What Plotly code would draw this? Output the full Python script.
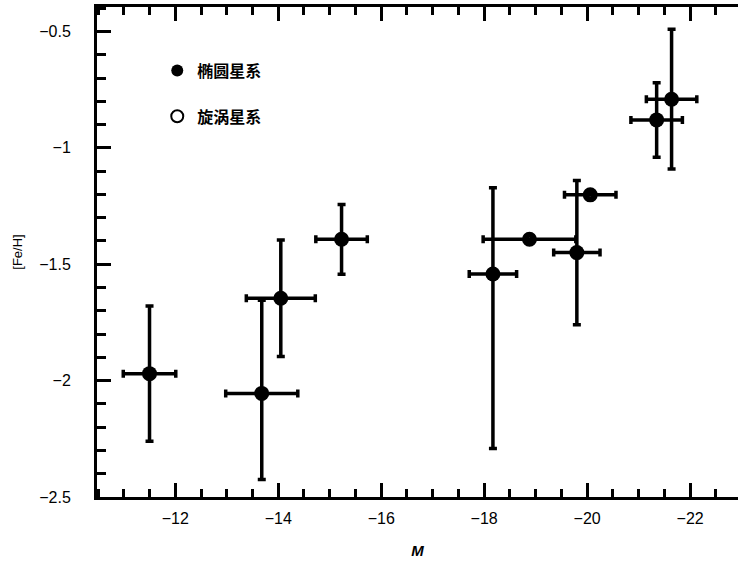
import plotly.graph_objects as go

# Elliptical galaxies (filled)
ell_M = [-11.5, -13.68, -14.05, -15.23, -18.17, -19.80, -21.35, -21.64]
ell_feh = [-1.97, -2.055, -1.646, -1.393, -1.542, -1.450, -0.880, -0.791]
ell_Merr = [0.51, 0.70, 0.67, 0.50, 0.46, 0.45, 0.50, 0.49]
ell_feh_up = [0.29, 0.40, 0.25, 0.15, 0.37, 0.31, 0.16, 0.30]
ell_feh_dn = [0.29, 0.37, 0.25, 0.15, 0.75, 0.31, 0.16, 0.30]

# Spiral galaxies (open)
sp_M = [-18.88, -20.06]
sp_feh = [-1.393, -1.202]
sp_Merr = [0.90, 0.50]

x_ticks = [-12, -14, -16, -18, -20, -22]
y_ticks = [-0.5, -1, -1.5, -2, -2.5]
y_ticktext = ["−0.5", "−1", "−1.5", "−2", "−2.5"]

err_style = dict(color="black", thickness=3.5, width=4)

fig = go.Figure()
fig.add_trace(go.Scatter(
    x=ell_M, y=ell_feh, mode="markers", name="椭圆星系",
    legendgroup="a",
    marker=dict(symbol="circle", size=15, color="black"),
    error_x=dict(type="data", array=ell_Merr, **err_style),
    error_y=dict(type="data", symmetric=False, array=ell_feh_up,
                 arrayminus=ell_feh_dn, **err_style),
))
fig.add_trace(go.Scatter(
    x=sp_M, y=sp_feh, mode="markers", name="旋涡星系",
    legendgroup="b",
    marker=dict(symbol="circle-open", size=9, color="black",
                line=dict(width=6, color="black")),
    error_x=dict(type="data", array=sp_Merr, **err_style),
))

fig.update_layout(
    width=738, height=567,
    margin=dict(l=97, r=0, t=7, b=70),
    plot_bgcolor="white", paper_bgcolor="white",
    font=dict(family="Liberation Sans, Arial, sans-serif", size=16, color="black"),
    showlegend=True,
    legend=dict(x=0.094, y=0.905, xanchor="left", yanchor="top",
                bgcolor="rgba(0,0,0,0)", tracegroupgap=22,
                font=dict(family="Noto Sans CJK SC", size=16, color="black", weight="bold"),
                itemsizing="constant"),
)
fig.update_xaxes(
    range=[-10.48, -22.93], autorange=False,
    tickvals=x_ticks, ticks="inside", ticklen=14, tickwidth=2.5, tickcolor="black",
    minor=dict(dtick=0.5, tick0=0, ticks="inside", ticklen=8, tickwidth=2.5, tickcolor="black"),
    showline=True, linewidth=3, linecolor="black", mirror="allticks",
    showgrid=False, zeroline=False, ticklabelstandoff=5,
    title=dict(text="<b><i>M</i></b>", font=dict(size=15), standoff=20),
)
fig.update_yaxes(
    range=[-2.5, -0.395], autorange=False,
    tickvals=y_ticks, ticktext=y_ticktext,
    ticks="inside", ticklen=14, tickwidth=2.5, tickcolor="black",
    minor=dict(dtick=0.1, tick0=0, ticks="inside", ticklen=9, tickwidth=2.5, tickcolor="black"),
    showline=True, linewidth=3, linecolor="black", mirror=False,
    showgrid=False, zeroline=False, ticklabelstandoff=20,
    title=dict(text="[Fe/H]", font=dict(size=13), standoff=14),
)

fig.write_html("out.html")
